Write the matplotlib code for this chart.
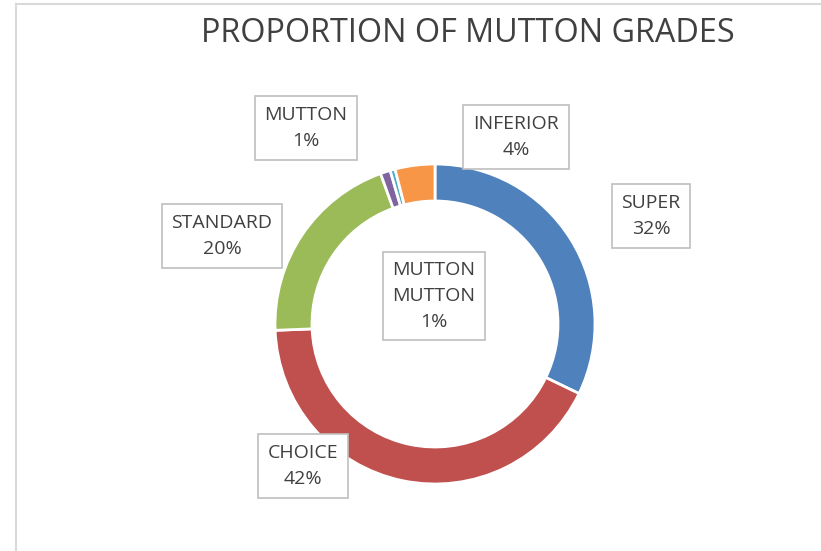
import matplotlib.pyplot as plt
from matplotlib.lines import Line2D

grades = ["SUPER", "CHOICE", "STANDARD", "MUTTON", "MUTTON MUTTON", "INFERIOR"]
shares = [32, 42, 20, 1, 0.5, 4]
colors = ["#4F81BD", "#C0504D", "#9BBB59", "#8064A2", "#4BACC6", "#F79646"]

# label box centres in pixel coords (x, y from top)
label_pos = [(651, 216), (303, 466), (222, 236), (306, 128), (434, 296), (516, 137)]

W, H = 821, 551
fig = plt.figure(figsize=(W / 100, H / 100), dpi=100)
ax = fig.add_axes([0, 0, 1, 1])
ax.set_xlim(0, W)
ax.set_ylim(0, H)
ax.set_aspect("equal")
ax.axis("off")

ax.pie(shares, colors=colors, startangle=90, counterclock=False,
       center=(435, H - 324), radius=160,
       wedgeprops=dict(width=37, edgecolor="white", linewidth=2))
ax.set_xlim(0, W)
ax.set_ylim(0, H)

total = sum(shares)
for name, val, (x, y) in zip(grades, shares, label_pos):
    pct = int(val / total * 100 + 0.5)
    txt = name.replace(" ", "\n") + "\n" + f"{pct}%"
    ax.text(x, H - y, txt, ha="center", va="center", fontsize=14,
            color="#404040", linespacing=1.55, family="Open Sans",
            bbox=dict(boxstyle="square,pad=0.5", fc="white", ec="#bfbfbf", lw=1.2))

fig.text(468 / W, 1 - 33 / H, "PROPORTION OF MUTTON GRADES", ha="center", va="center",
         fontsize=23.3, color="#404040", family="Open Sans")

# chart area border (only left and top edges visible)
fig.add_artist(Line2D([15.5 / W, 15.5 / W], [0, 1 - 3.5 / H], color="#d9d9d9", lw=1.5,
                      transform=fig.transFigure))
fig.add_artist(Line2D([15.5 / W, 1], [1 - 3.5 / H, 1 - 3.5 / H], color="#d9d9d9", lw=1.5,
                      transform=fig.transFigure))

fig.savefig("out.png", dpi=100)
